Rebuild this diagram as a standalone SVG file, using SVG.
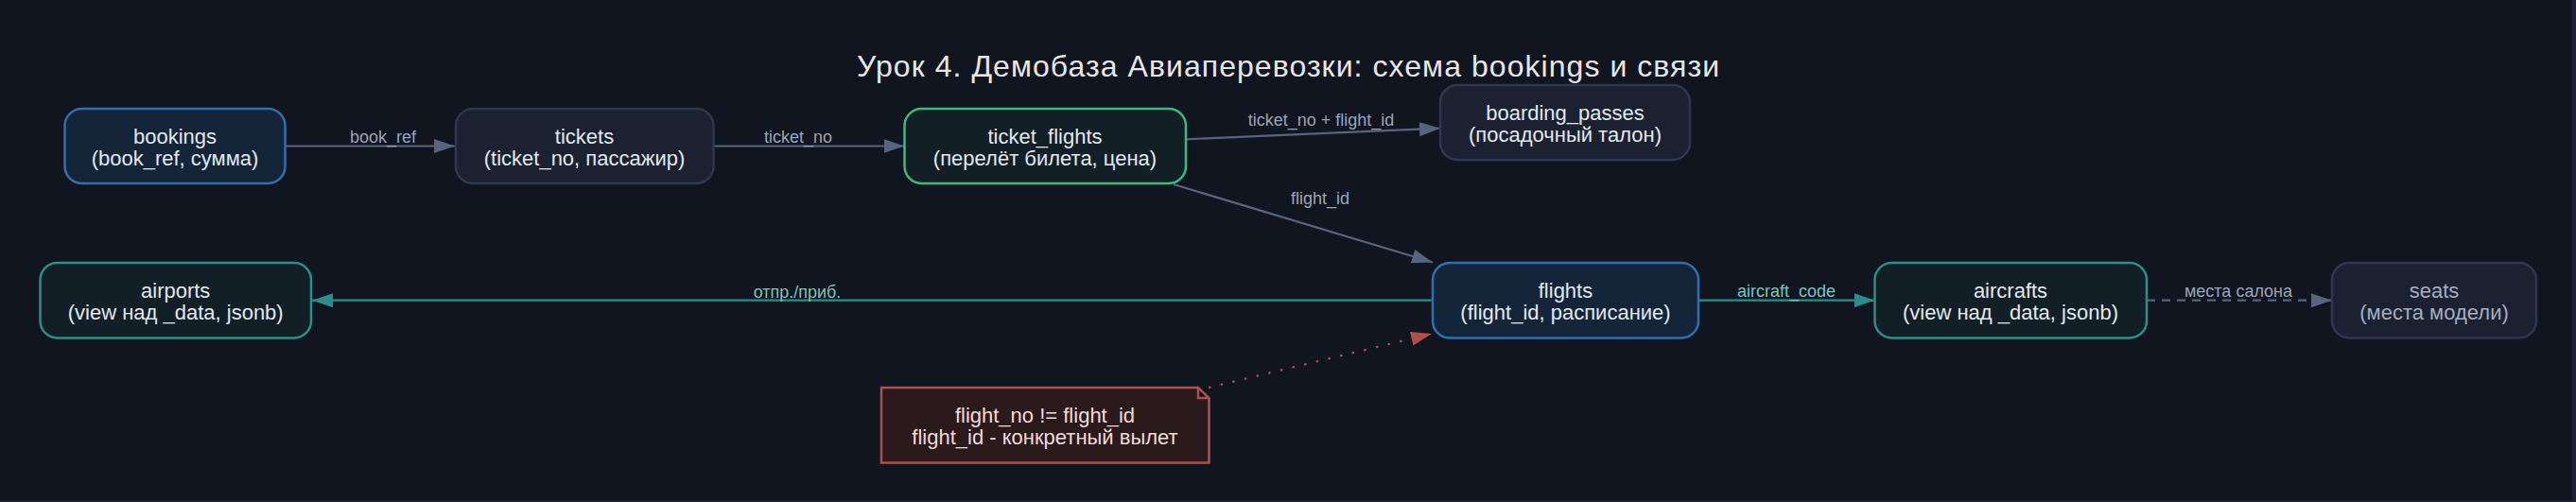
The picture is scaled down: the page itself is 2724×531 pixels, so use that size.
<svg xmlns="http://www.w3.org/2000/svg" width="2724" height="531" viewBox="0 0 2724 531">
<defs>
<style>
.n text{font-family:"Liberation Sans",Arial,sans-serif;font-size:22px;fill:#e2e8f0;text-anchor:middle}
.blue rect{fill:#14253a;stroke:#2f6fb0;stroke-width:2.5}
.grey rect{fill:#1b2131;stroke:#2b3850;stroke-width:2.5}
.green rect{fill:#131f27;stroke:#3dba7a;stroke-width:2.5}
.teal rect{fill:#131f27;stroke:#2a8f8c;stroke-width:2.5}
.e{fill:none;stroke-width:2.2}
.sl{stroke:#56647f}
.tl{stroke:#2a8f8c}
.rd{stroke:#b0504e}
.lbl{font-family:"Liberation Sans",Arial,sans-serif;font-size:18px;text-anchor:middle}
.ls{fill:#98a5bd}
.lt{fill:#7cc4bf}
</style>
<marker id="aS" markerUnits="userSpaceOnUse" markerWidth="22" markerHeight="16" refX="22" refY="7.5" orient="auto"><path d="M0,0 L22,7.5 L0,15 z" fill="#56647f"/></marker>
<marker id="aT" markerUnits="userSpaceOnUse" markerWidth="22" markerHeight="16" refX="22" refY="7.5" orient="auto"><path d="M0,0 L22,7.5 L0,15 z" fill="#2a8f8c"/></marker>
<marker id="aR" markerUnits="userSpaceOnUse" markerWidth="22" markerHeight="16" refX="22" refY="7.5" orient="auto"><path d="M0,0 L22,7.5 L0,15 z" fill="#b0504e"/></marker>
</defs>
<rect x="0" y="0" width="2724" height="531" fill="#1c2130"/>
<rect x="0" y="0" width="2720" height="529" fill="#11151f"/>
<text x="1362" y="81" font-family="&quot;Liberation Sans&quot;,Arial,sans-serif" font-size="32" fill="#e5e7eb" text-anchor="middle" textLength="912" lengthAdjust="spacing">Урок 4. Демобаза Авиаперевозки: схема bookings и связи</text>

<g id="edges">
<path class="e sl" d="M302,154.5 L481,154.5" marker-end="url(#aS)"/>
<text class="lbl ls" x="405" y="151">book_ref</text>
<path class="e sl" d="M754.5,154.5 L956.5,154.5" marker-end="url(#aS)"/>
<text class="lbl ls" x="844" y="151">ticket_no</text>
<path class="e sl" d="M1254,147.3 L1523,135.7" marker-end="url(#aS)"/>
<text class="lbl ls" x="1397" y="133">ticket_no + flight_id</text>
<path class="e sl" d="M1241,195 L1515,277.5" marker-end="url(#aS)"/>
<text class="lbl ls" x="1396" y="216">flight_id</text>
<path class="e tl" d="M1515,317.7 L330,317.7" marker-end="url(#aT)"/>
<text class="lbl lt" x="843" y="315">отпр./приб.</text>
<path class="e tl" d="M1796,317.7 L1982.5,317.7" marker-end="url(#aT)"/>
<text class="lbl lt" x="1889" y="314">aircraft_code</text>
<path class="e sl" d="M2270,317.7 L2466,317.7" stroke-dasharray="9 7" marker-end="url(#aS)"/>
<text class="lbl ls" x="2367" y="314">места салона</text>
<path class="e rd" d="M1278,410 L1514,353" stroke-dasharray="2.5 10.5" marker-end="url(#aR)"/>
</g>

<g id="bookings" class="n blue"><rect x="68.5" y="115" width="233" height="79" rx="18"/><text x="185" y="152">bookings</text><text x="185" y="175">(book_ref, сумма)</text></g>
<g id="tickets" class="n grey"><rect x="482" y="115" width="272.5" height="79" rx="18"/><text x="618" y="152">tickets</text><text x="618" y="175">(ticket_no, пассажир)</text></g>
<g id="ticket_flights" class="n green"><rect x="956.5" y="115" width="297.5" height="79" rx="18"/><text x="1105" y="152">ticket_flights</text><text x="1105" y="175">(перелёт билета, цена)</text></g>
<g id="boarding_passes" class="n grey"><rect x="1523" y="90" width="264" height="79" rx="18"/><text x="1655" y="127">boarding_passes</text><text x="1655" y="150">(посадочный талон)</text></g>
<g id="airports" class="n teal"><rect x="42.5" y="278" width="286.5" height="79.5" rx="18"/><text x="185.7" y="315">airports</text><text x="185.7" y="338">(view над _data, jsonb)</text></g>
<g id="flights" class="n blue"><rect x="1515" y="278" width="281" height="79.5" rx="18"/><text x="1655.5" y="315">flights</text><text x="1655.5" y="338">(flight_id, расписание)</text></g>
<g id="aircrafts" class="n teal"><rect x="1982.5" y="278" width="287.5" height="79.5" rx="18"/><text x="2126" y="315">aircrafts</text><text x="2126" y="338">(view над _data, jsonb)</text></g>
<g id="seats" class="n grey"><rect x="2466" y="278" width="216" height="79.5" rx="18"/><text x="2574" y="315" style="fill:#a3aec2">seats</text><text x="2574" y="338" style="fill:#a3aec2">(места модели)</text></g>
<g id="note" class="n"><path d="M932,410 L1267,410 L1278.5,421 L1278.5,489.5 L932,489.5 Z M1267,410 L1267,421 L1278.5,421" fill="#2a1a1c" stroke="#b0504e" stroke-width="2.5"/><text x="1105" y="447" style="fill:#f3d9d9">flight_no != flight_id</text><text x="1105" y="470" style="fill:#f3d9d9">flight_id - конкретный вылет</text></g>
</svg>
